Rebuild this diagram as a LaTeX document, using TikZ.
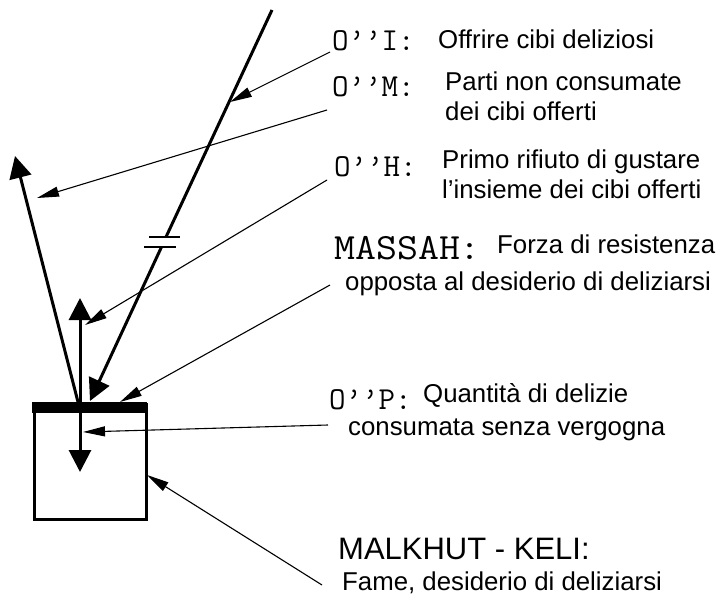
\documentclass[tikz,border=0pt]{standalone}
\usepackage{fontspec}
\setmainfont{Liberation Sans}
\usetikzlibrary{arrows.meta}
\begin{document}
\begin{tikzpicture}[x=1pt,y=-1pt,
  thickline/.style={line width=3pt},
  thinarrow/.style={line width=1.1pt,-{Triangle[length=22pt,width=10pt]}},
  bigarrow/.style={line width=3pt,-{Triangle[length=22pt,width=22pt]}},
  txt/.style={anchor=base west,inner sep=0pt,font=\fontsize{25.8}{30}\selectfont},
  txtbig/.style={anchor=base west,inner sep=0pt,font=\fontsize{31}{36}\selectfont},
  lbl/.style={anchor=base west,inner sep=0pt,font=\ttfamily\fontsize{32}{36}\selectfont},
  lblbig/.style={anchor=base west,inner sep=0pt,font=\ttfamily\fontsize{37}{40}\selectfont},
]
\useasboundingbox (0,0) rectangle (720,599);
\fill[white] (0,0) rectangle (720,599);

% vessel
\node (keli) [draw,line width=3pt,minimum width=112pt,minimum height=115pt,inner sep=0pt,anchor=north west] at (33,403) {};
\fill (31.5,401.5) rectangle (146.5,413);

% main light line
\coordinate (top) at (272,10);
\coordinate (brkA) at (166,237);
\coordinate (brkB) at (161.5,247);
\coordinate (hit) at (90,401);
\draw[thickline] (top) -- (brkA);
\draw[bigarrow] (brkB) -- (hit);
\coordinate (b1l) at (149,237); \coordinate (b1r) at (180,237);
\coordinate (b2l) at (144,247); \coordinate (b2r) at (176,247);
\draw[line width=1.8pt] (b1l) -- (b1r);
\draw[line width=1.8pt] (b2l) -- (b2r);

% reflected light
\coordinate (lb) at (78,402);
\coordinate (lt) at (15,156);
\draw[bigarrow] (lb) -- (lt);

% up and down arrows
\coordinate (ub) at (80,402);
\coordinate (ut) at (80,298);
\draw[bigarrow] (ub) -- (ut);
\coordinate (db) at (80,413);
\coordinate (dt) at (80,472);
\draw[bigarrow] (db) -- (dt);

% labels
\node[lbl] (oi) at (332,51) {O’’I:};
\node[txt] (ti) at (438,49) {Offrire cibi deliziosi};
\node[lbl] (om) at (332,97) {O’’M:};
\node[txt] (tm1) at (445,91) {Parti non consumate};
\node[txt] (tm2) at (445,121) {dei cibi offerti};
\node[lbl] (oh) at (334,176) {O’’H:};
\node[txt] (th1) at (442,168) {Primo rifiuto di gustare};
\node[txt] (th2) at (442,198) {l'insieme dei cibi offerti};
\node[lblbig] (om2) at (334,259) {\scalebox{1.1}[1]{MASSAH:}};
\node[txt] (ts1) at (497,253) {Forza di resistenza};
\node[txt] (ts2) at (345,290) {opposta al desiderio di deliziarsi};
\node[lbl] (op) at (329,409) {O’’P:};
\node[txt] (tp1) at (423,402) {Quantità di delizie};
\node[txt] (tp2) at (348,435) {consumata senza vergogna};
\node[txtbig] (tk1) at (338,559) {MALKHUT - KELI:};
\node[txt] (tk2) at (342,590) {Fame, desiderio di deliziarsi};

% pointer arrows
\coordinate (si) at (330,52);   \coordinate (ei) at (230,102);
\coordinate (sm) at (327,110);  \coordinate (em) at (37,198);
\coordinate (sh) at (327,180);  \coordinate (eh) at (85,325);
\coordinate (ss) at (330,285);  \coordinate (es) at (120,402);
\coordinate (sp) at (328,425);  \coordinate (ep) at (83,432);
\coordinate (sk) at (322,585);  \coordinate (ek) at (147,475);
\draw[thinarrow] (si) -- (ei);
\draw[thinarrow] (sm) -- (em);
\draw[thinarrow] (sh) -- (eh);
\draw[thinarrow] (ss) -- (es);
\draw[thinarrow] (sp) -- (ep);
\draw[thinarrow] (sk) -- (ek);
\end{tikzpicture}
\end{document}
